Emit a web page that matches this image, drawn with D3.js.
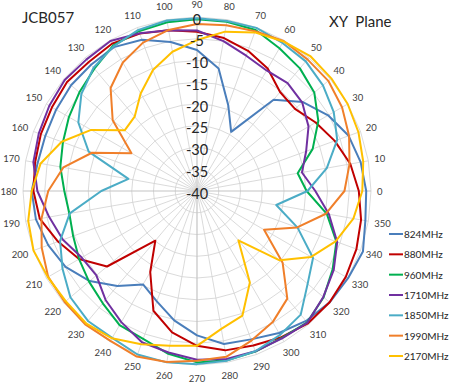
<!DOCTYPE html>
<html>
<head>
<meta charset="utf-8">
<script src="https://cdn.jsdelivr.net/npm/d3@7/dist/d3.min.js"></script>
<style>
  body { margin: 0; background: #fff; }
  svg { display: block; font-family: Lato, "Open Sans", sans-serif; }
</style>
</head>
<body>
<svg id="chart" width="452" height="387"></svg>
<script>
// categories, clockwise from the top (Excel radar order)
var angles = [90, 80, 70, 60, 50, 40, 30, 20, 10, 0, 350, 340, 330, 320, 310, 300, 290, 280,
              270, 260, 250, 240, 230, 220, 210, 200, 190, 180, 170, 160, 150, 140, 130, 120, 110, 100];

var radialTicks = [-40, -35, -30, -25, -20, -15, -10, -5, 0];

var seriesNames = ['824MHz', '880MHz', '960MHz', '1710MHz', '1850MHz', '1990MHz', '2170MHz'];

var mhz824 = [-7.6, -11.4, -19.0, -24.3, -12.6, -8.2, -5.2, -2.9, -1.8, -1.1, -0.7, 0.6, 0.1, -0.2, -1.0, -2.3, -3.7, -4.3,
              -6.8, -9.8, -13.0, -15.2, -11.5, -7.8, -5.1, -3.6, -2.4, -2.0, -2.8, -2.9, -2.6, -2.2, -2.1, -1.8, -3.0, -5.2];
var mhz880 = [-3.4, -4.3, -5.7, -7.5, -10.3, -10.6, -8.5, -6.3, -4.2, -2.8, -1.7, -1.0, -0.5, -0.2, -0.3, -1.2, -2.2, -2.8,
              -4.4, -7.0, -10.7, -18.5, -25.1, -13.0, -8.7, -6.0, -3.3, -2.4, -2.2, -1.8, -1.5, -1.0, -1.3, -0.9, -1.5, -2.5];
var mhz960 = [-0.5, -0.5, -0.6, -2.1, -3.2, -4.8, -7.8, -11.7, -16.5, -14.8, -9.7, -5.9, -4.0, -2.0, -0.6, -1.0, -0.7, -0.5,
              -0.6, -2.0, -3.8, -4.4, -6.3, -7.6, -8.7, -9.7, -10.2, -9.5, -8.1, -7.2, -6.0, -4.7, -3.3, -1.4, -0.9, -0.6];
var mhz1710 = [-3.1, -5.0, -6.9, -8.0, -7.6, -8.4, -10.4, -13.3, -15.5, -12.8, -9.2, -5.7, -3.7, -2.1, -0.5, -0.9, -0.8, -0.8,
               -1.2, -2.3, -3.0, -5.2, -7.3, -9.8, -9.4, -7.2, -5.5, -3.3, -1.8, -1.3, -0.8, -0.3, -0.5, -0.2, -1.4, -2.5];
var mhz1850 = [-0.3, -0.3, -0.1, -0.7, -1.1, -2.2, -3.7, -5.7, -9.7, -14.6, -21.5, -15.4, -9.2, -6.8, -2.9, -1.8, -0.8, -0.4,
               -0.2, 0.0, 0.0, -1.0, -1.0, -2.0, -4.3, -6.5, -10.3, -18.0, -24.0, -13.5, -8.5, -5.3, -3.0, -1.6, -0.6, -0.2];
var mhz1990 = [-1.6, -1.3, -0.9, -0.2, -0.5, -0.6, -1.5, -2.8, -4.4, -6.1, -9.9, -15.5, -22.2, -14.3, -7.7, -5.2, -3.4, -1.3,
               -1.0, -0.1, 0.5, -0.2, 0.0, -0.3, -0.5, -2.0, -3.7, -5.8, -8.8, -14.3, -22.6, -14.7, -9.1, -5.9, -3.7, -2.4];
var mhz2170 = [-5.3, -2.8, -1.2, -0.3, 0.5, 0.3, 0.0, -0.5, -1.2, -2.0, -3.5, -6.1, -9.7, -15.2, -25.2, -15.7, -9.5, -7.8,
               -4.4, -3.9, -2.5, -0.9, -0.3, -0.6, -0.4, 0.0, -0.6, -2.0, -3.5, -6.9, -11.9, -18.3, -17.7, -14.1, -10.4, -7.5];

var seriesValues = [mhz824, mhz880, mhz960, mhz1710, mhz1850, mhz1990, mhz2170];
var colors = ['#4a7ebb', '#c00000', '#00b050', '#7030a0', '#4bacc6', '#f07f2a', '#ffc000'];

//UI configuration
var cx = 197, cy = 191, radius = 174;

var svg = d3.select('#chart');

var rScale = d3.scaleLinear().domain([-40, 0]).range([0, radius]);
var aScale = d3.scaleLinear().domain([0, angles.length]).range([0, 2 * Math.PI]);

var g = svg.append('g').attr('transform', 'translate(' + cx + ',' + cy + ')');

// grid rings (polygons)
var ringLine = d3.lineRadial()
    .angle(function (d, i) { return aScale(i); })
    .radius(function (d) { return rScale(d); })
    .curve(d3.curveLinearClosed);

g.selectAll('path.ring')
    .data(radialTicks.filter(function (t) { return t > -40; }))
    .enter().append('path')
    .attr('class', 'ring')
    .attr('d', function (t) { return ringLine(angles.map(function () { return t; })); })
    .attr('fill', 'none')
    .attr('stroke', '#d0d0d0')
    .attr('stroke-width', 0.8);

// spokes
g.selectAll('line.spoke')
    .data(angles)
    .enter().append('line')
    .attr('class', 'spoke')
    .attr('x1', 0).attr('y1', 0)
    .attr('x2', function (d, i) { return rScale(0) * Math.sin(aScale(i)); })
    .attr('y2', function (d, i) { return -rScale(0) * Math.cos(aScale(i)); })
    .attr('stroke', function (d, i) { return i % 9 === 0 ? '#c4c4c4' : '#d0d0d0'; })
    .attr('stroke-width', function (d, i) { return i % 9 === 0 ? 1.2 : 0.8; });

// category labels, pushed out by half their box
var labelGap = 6, labelFont = 9.5;
g.selectAll('text.cat')
    .data(angles)
    .enter().append('text')
    .attr('class', 'cat')
    .attr('text-anchor', 'middle')
    .attr('dominant-baseline', 'central')
    .attr('font-size', labelFont)
    .attr('fill', '#404040')
    .text(function (d) { return d; })
    .each(function (d, i) {
        var a = aScale(i), w = this.getComputedTextLength();
        var s = Math.sin(a), c = Math.cos(a);
        d3.select(this)
            .attr('x', (radius + labelGap) * s + s * w / 2)
            .attr('y', -(radius + labelGap) * c - c * 7);
    });

// series
var seriesLine = d3.lineRadial()
    .angle(function (d, i) { return aScale(i); })
    .radius(function (d) { return rScale(d); })
    .curve(d3.curveLinearClosed);

g.selectAll('path.series')
    .data(seriesValues)
    .enter().append('path')
    .attr('class', 'series')
    .attr('d', function (d) { return seriesLine(d); })
    .attr('fill', 'none')
    .attr('stroke', function (d, i) { return colors[i]; })
    .attr('stroke-width', 2)
    .attr('stroke-linejoin', 'round');

// radial axis labels
g.selectAll('text.tick')
    .data(radialTicks)
    .enter().append('text')
    .attr('class', 'tick')
    .attr('x', 0)
    .attr('y', function (d) { return -rScale(d) + 2; })
    .attr('text-anchor', 'middle')
    .attr('dominant-baseline', 'central')
    .attr('font-size', 14.5)
    .attr('fill', '#262626')
    .text(function (d) { return d; });

// titles
svg.append('text').attr('x', 22).attr('y', 23)
    .attr('font-size', 15).attr('fill', '#262626').text('JCB057');
svg.append('text').attr('x', 329).attr('y', 27)
    .attr('font-size', 15).attr('fill', '#262626').attr('xml:space', 'preserve').text('XY  Plane');

// legend
var legendY = d3.scaleLinear().domain([0, seriesNames.length - 1]).range([234, 356]);
var legend = svg.append('g').selectAll('g')
    .data(seriesNames)
    .enter().append('g')
    .attr('transform', function (d, i) { return 'translate(389,' + legendY(i) + ')'; });
legend.append('line')
    .attr('x1', 0).attr('x2', 14)
    .attr('stroke', function (d, i) { return colors[i]; })
    .attr('stroke-width', 2);
legend.append('text')
    .attr('x', 15)
    .attr('dominant-baseline', 'central')
    .attr('font-size', 10)
    .attr('fill', '#262626')
    .text(function (d) { return d; });
</script>
</body>
</html>
